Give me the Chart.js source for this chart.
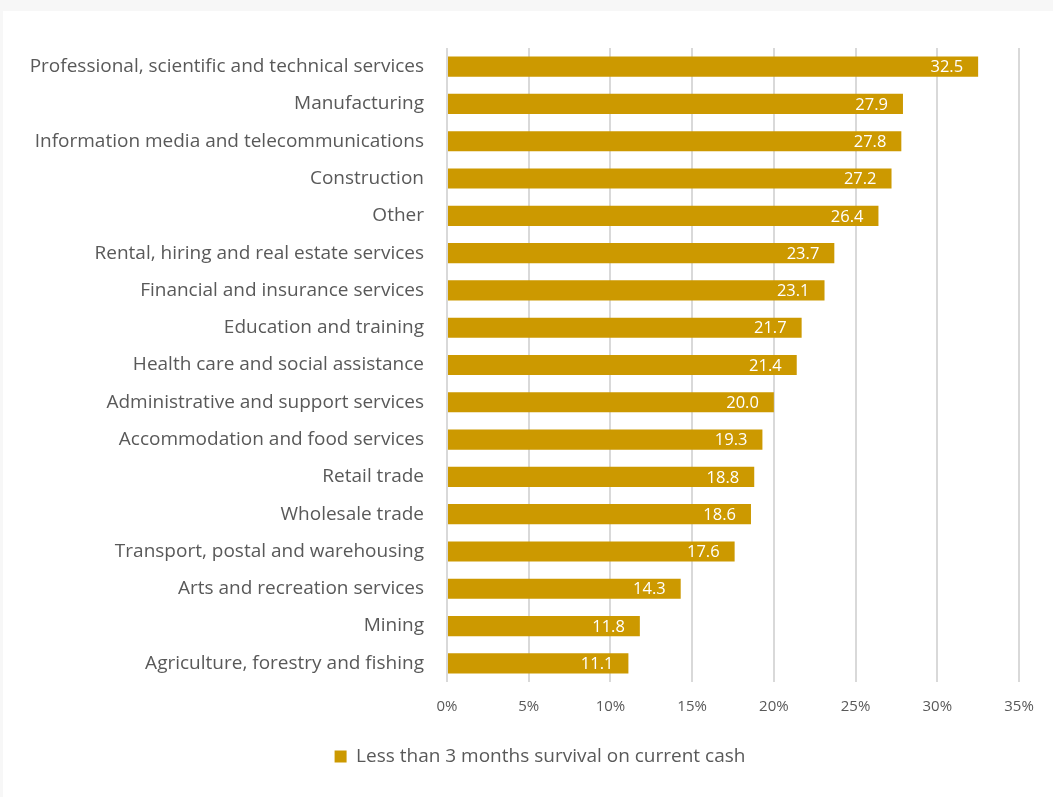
<!DOCTYPE html>
<html>
<head>
<meta charset="utf-8">
<script src="https://cdn.jsdelivr.net/npm/chart.js@4"></script>
<style>
  html, body { margin: 0; padding: 0; background: #f7f7f7; }
  #wrap { position: absolute; left: 3px; top: 11px; width: 1050px; height: 786px; background: #ffffff; }
</style>
</head>
<body>
<div id="wrap"><canvas id="myChart" width="1050" height="786"></canvas></div>
<script>
// industries, top to bottom
var industries = [
  "Professional, scientific and technical services",
  "Manufacturing",
  "Information media and telecommunications",
  "Construction",
  "Other",
  "Rental, hiring and real estate services",
  "Financial and insurance services",
  "Education and training",
  "Health care and social assistance",
  "Administrative and support services",
  "Accommodation and food services",
  "Retail trade",
  "Wholesale trade",
  "Transport, postal and warehousing",
  "Arts and recreation services",
  "Mining",
  "Agriculture, forestry and fishing"
];
// % of businesses with less than 3 months of cash
var survivalPct = [32.5, 27.9, 27.8, 27.2, 26.4, 23.7, 23.1, 21.7, 21.4, 20.0, 19.3, 18.8, 18.6, 17.6, 14.3, 11.8, 11.1];
var seriesName = "Less than 3 months survival on current cash";
var xTicks = [0, 5, 10, 15, 20, 25, 30, 35];

var barColor = "#CC9900";
var textColor = "#595959";
var fontName = "'Open Sans', Lato, sans-serif";

// white value labels just inside the end of each bar
var valueLabels = {
  id: "valueLabels",
  afterDatasetsDraw: function (chart) {
    var ctx = chart.ctx;
    var meta = chart.getDatasetMeta(0);
    ctx.save();
    ctx.fillStyle = "#ffffff";
    ctx.font = "16.5px " + fontName;
    ctx.textAlign = "right";
    ctx.textBaseline = "middle";
    meta.data.forEach(function (bar, i) {
      ctx.fillText(survivalPct[i].toFixed(1), bar.x - 15, bar.y + 1);
    });
    ctx.restore();
  }
};

// legend sits a bit right of centre, under the plot area
var nudgeLegend = {
  id: "nudgeLegend",
  afterLayout: function (chart) {
    var lg = chart.legend;
    lg.left += 29;
    lg.right += 29;
    lg.top -= 2;
    lg.bottom -= 2;
  }
};

new Chart("myChart", {
  type: "bar",
  data: {
    labels: industries,
    datasets: [{
      label: seriesName,
      data: survivalPct,
      backgroundColor: barColor,
      categoryPercentage: 1,
      barPercentage: 0.54
    }]
  },
  options: {
    indexAxis: "y",
    responsive: false,
    animation: false,
    layout: {
      padding: { top: 37, right: 34, left: 0, bottom: 19 }
    },
    scales: {
      x: {
        min: 0,
        max: 35,
        afterBuildTicks: function (scale) {
          scale.ticks = xTicks.map(function (v) { return { value: v }; });
        },
        grid: { color: "#d9d9d9", lineWidth: 2, drawTicks: false },
        border: { display: false },
        ticks: {
          padding: 16,
          color: textColor,
          font: { family: fontName, size: 15 },
          callback: function (v) { return v + "%"; }
        }
      },
      y: {
        afterFit: function (scale) { scale.width = 444; },
        grid: { display: false, drawTicks: false },
        border: { display: false },
        ticks: {
          padding: 23,
          color: textColor,
          font: { family: fontName, size: 19 }
        }
      }
    },
    plugins: {
      legend: {
        position: "bottom",
        labels: {
          boxWidth: 12,
          boxHeight: 12,
          padding: 17,
          color: textColor,
          font: { family: fontName, size: 19 }
        }
      },
      tooltip: { enabled: false }
    }
  },
  plugins: [valueLabels, nudgeLegend]
});
</script>
</body>
</html>
